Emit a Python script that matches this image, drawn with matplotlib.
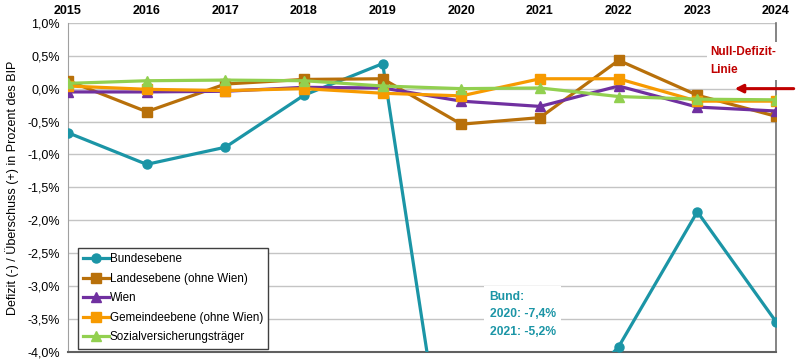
import matplotlib
matplotlib.use("Agg")
import matplotlib.pyplot as plt
from matplotlib.ticker import FuncFormatter

plt.rcParams['font.family'] = ['Liberation Sans', 'DejaVu Sans']

years = [2015, 2016, 2017, 2018, 2019, 2020, 2021, 2022, 2023, 2024]
bund = [-0.67, -1.15, -0.89, -0.10, 0.38, -7.4, -5.2, -3.92, -1.87, -3.54]
land = [0.12, -0.35, 0.07, 0.14, 0.15, -0.54, -0.44, 0.43, -0.10, -0.42]
wien = [-0.05, -0.05, -0.04, 0.02, 0.01, -0.19, -0.27, 0.04, -0.28, -0.34]
gemeinde = [0.04, -0.01, -0.03, 0.00, -0.07, -0.11, 0.15, 0.15, -0.19, -0.19]
sozial = [0.08, 0.12, 0.13, 0.12, 0.04, 0.00, 0.01, -0.12, -0.16, -0.17]

series = [
    ("Bundesebene", bund, "#1B95A6", "o"),
    ("Landesebene (ohne Wien)", land, "#B8700A", "s"),
    ("Wien", wien, "#7030A0", "^"),
    ("Gemeindeebene (ohne Wien)", gemeinde, "#F79A00", "s"),
    ("Sozialversicherungsträger", sozial, "#92D050", "^"),
]

fig = plt.figure(figsize=(8, 3.59), dpi=100)
ax = fig.add_axes([0.085, 0.0195, 0.885, 0.917])

for name, vals, col, mk in series:
    ax.plot(years, vals, color=col, marker=mk, lw=2.3, ms=6.5, label=name, zorder=3)

ax.set_xlim(2015, 2024)
ax.set_ylim(-4.0, 1.0)
ax.set_yticks([1.0, 0.5, 0.0, -0.5, -1.0, -1.5, -2.0, -2.5, -3.0, -3.5, -4.0])
ax.yaxis.set_major_formatter(FuncFormatter(lambda v, p: f"{v:.1f}%".replace(".", ",")))
ax.set_xticks(years)
ax.set_xticklabels([str(y) for y in years], fontweight='bold')
ax.xaxis.tick_top()
ax.tick_params(axis='x', length=0, pad=4, labelsize=9)
ax.tick_params(axis='y', length=0, pad=6, labelsize=9)
ax.grid(axis='y', color='#C4C4C4', lw=1)
ax.set_axisbelow(True)
ax.spines['top'].set_visible(False)
ax.spines['left'].set_color('#A0A0A0')
ax.spines['right'].set_color('#707070')
ax.spines['bottom'].set_color('#606060')
ax.spines['bottom'].set_linewidth(1.5)
ax.spines['right'].set_linewidth(1.2)

ax.set_ylabel("Defizit (-) / Überschuss (+) in Prozent des BIP", fontsize=9, labelpad=6)

leg = ax.legend(loc='lower left', bbox_to_anchor=(0.011, 0.003), fontsize=8.4,
                frameon=True, fancybox=False, edgecolor='#404040', framealpha=1,
                handlelength=2.2, handletextpad=0.05, borderpad=0.45, labelspacing=0.65,
                borderaxespad=0.2)
leg.get_frame().set_linewidth(1)

ax.text(2023.17, 0.42, "Null-Defizit-\nLinie", color='#C00000', fontweight='bold',
        fontsize=8.5, ha='left', va='center', linespacing=1.6,
        bbox=dict(facecolor='white', edgecolor='none', pad=3), zorder=5)
ax.annotate("", xy=(2023.44, 0.0), xytext=(2024.26, 0.0),
            arrowprops=dict(arrowstyle='-|>', color='#C00000', lw=2.2, mutation_scale=12),
            annotation_clip=False, zorder=6)

ax.text(2020.36, -3.43, "Bund:\n2020: -7,4%\n2021: -5,2%", color='#1B95A6',
        fontweight='bold', fontsize=8.7, ha='left', va='center', linespacing=1.6,
        bbox=dict(facecolor='white', edgecolor='none', pad=4), zorder=2.5)

fig.savefig("out.png", dpi=100)
